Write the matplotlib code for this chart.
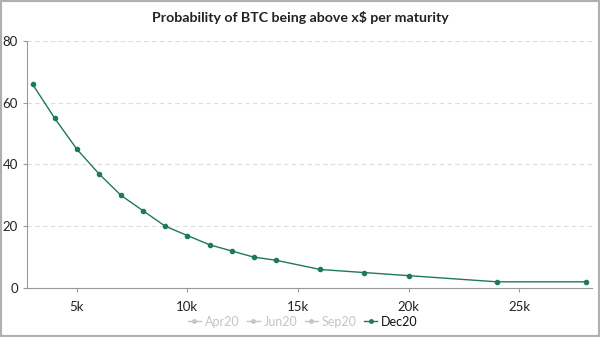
import matplotlib
matplotlib.use("Agg")
import matplotlib.pyplot as plt
from matplotlib.lines import Line2D
from matplotlib.patches import Rectangle
from matplotlib.ticker import FuncFormatter

plt.rcParams['font.family'] = ['Lato', 'DejaVu Sans']

# Данные: цена BTC и вероятность (%) для Dec20
strikes = [3000, 4000, 5000, 6000, 7000, 8000, 9000, 10000, 11000, 12000,
           13000, 14000, 16000, 18000, 20000, 24000, 28000]
dec20 = [66, 55, 45, 37, 30, 25, 20, 17, 14, 12, 10, 9, 6, 5, 4, 2, 2]
hidden_series = ["Apr20", "Jun20", "Sep20"]
series_name = "Dec20"
x_ticks = [5000, 10000, 15000, 20000, 25000]
y_ticks = [0, 20, 40, 60, 80]

GREEN = "#1f7a55"
GREY = "#c4c4c4"
AXIS = "#9a9a9a"

fig = plt.figure(figsize=(6, 3.37), dpi=100)
ax = fig.add_axes([0.045, 0.1454, 0.942, 0.733])

ax.plot(strikes, dec20, color=GREEN, lw=1.0, marker="o", ms=3, zorder=3)

ax.set_xlim(2750, 28300)
ax.set_ylim(0, 80)
ax.set_xticks(x_ticks)
ax.set_yticks(y_ticks)
ax.xaxis.set_major_formatter(FuncFormatter(lambda v, p: f"{int(v/1000)}k"))

ax.grid(axis="y", color="#dcdcdc", ls=(0, (4, 3)), lw=0.8)
ax.set_axisbelow(True)
for s in ["top", "right"]:
    ax.spines[s].set_visible(False)
for s in ["left", "bottom"]:
    ax.spines[s].set_color(AXIS)
    ax.spines[s].set_linewidth(0.8)
ax.tick_params(axis="both", colors=AXIS, length=3, width=0.8, labelsize=9.5, labelcolor="#222222")
ax.tick_params(axis="x", pad=6)

fig.text(0.5, 0.948, "Probability of BTC being above x$ per maturity",
         ha="center", va="center", fontsize=10.2, fontweight="bold", color="#222222")

handles = [Line2D([], [], color=GREY, lw=1, marker="o", ms=2.5) for _ in hidden_series]
handles.append(Line2D([], [], color=GREEN, lw=1, marker="o", ms=2.5))
leg = fig.legend(handles, hidden_series + [series_name], loc="center",
                 bbox_to_anchor=(0.505, 0.045), ncol=4, frameon=False, fontsize=9,
                 handlelength=1.0, handletextpad=0.35, columnspacing=0.6)
for t in leg.get_texts()[:3]:
    t.set_color(GREY)
leg.get_texts()[3].set_color("#111111")

# серая рамка скриншота
fig.patches.append(Rectangle((0, 0), 1, 1, transform=fig.transFigure, fill=False,
                             edgecolor="#b0b0b0", lw=3))

fig.savefig("out.png", dpi=100)
